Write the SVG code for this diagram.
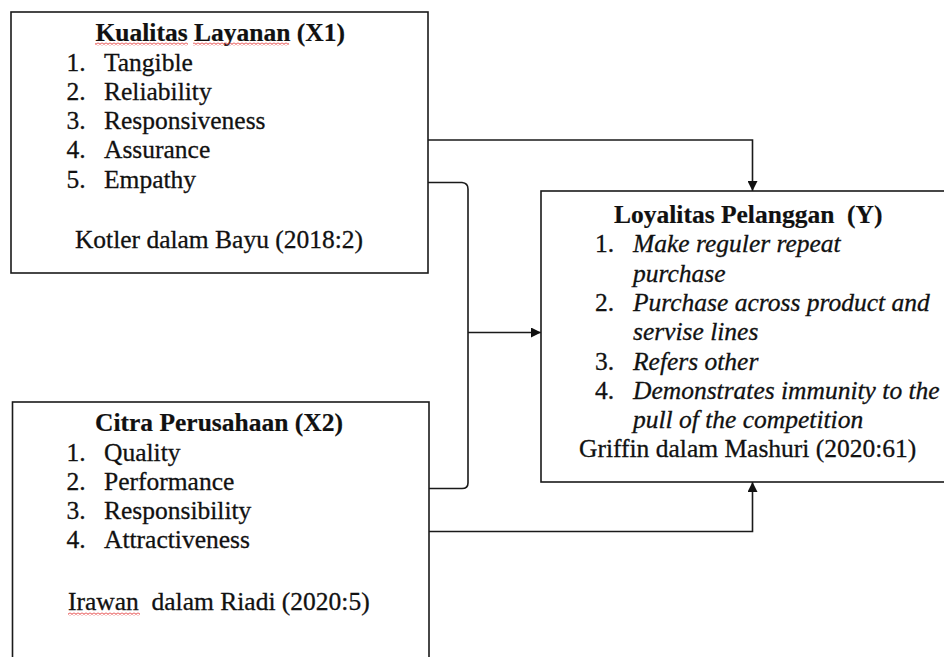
<svg xmlns="http://www.w3.org/2000/svg" width="944" height="657" viewBox="0 0 944 657">
<style>
.box{fill:#fff;stroke:#1a1a1a;stroke-width:1.6}
.t{font-family:"Liberation Serif","Times New Roman",serif;font-size:25.5px;fill:#111;stroke:#111;stroke-width:0.3}
.b{font-weight:bold;stroke-width:0.2}
.i{font-style:italic}
.c{text-anchor:middle}
.conn{fill:none;stroke:#1a1a1a;stroke-width:1.6}
</style>
<defs>
<marker id="arr" viewBox="0 0 10 10" refX="10" refY="5" markerWidth="10" markerHeight="10" markerUnits="userSpaceOnUse" orient="auto">
<path d="M0 0 L10 5 L0 10 z" fill="#111"/>
</marker>
<pattern id="squig" width="4" height="3" patternUnits="userSpaceOnUse">
<path d="M0 2.4 L2 0.6 L4 2.4" fill="none" stroke="#e02020" stroke-width="0.9"/>
</pattern>
</defs>

<g id="connectors">
<path class="conn" d="M428 140 H752.5 V191" marker-end="url(#arr)"/>
<path class="conn" d="M428 182.5 H462 Q468 183 468 189 V483 Q468 488.5 462 488.5 H429"/>
<path class="conn" d="M468 332.5 H541" marker-end="url(#arr)"/>
<path class="conn" d="M429 531.5 H752.5 V482" marker-end="url(#arr)"/>
</g>

<g id="x1">
<rect class="box" x="11" y="12" width="417" height="261"/>
<text class="t b" x="95.5" y="41">Kualitas Layanan (X1)</text>
<rect x="95" y="42.5" width="93" height="3" fill="url(#squig)"/>
<rect x="193" y="42.5" width="96" height="3" fill="url(#squig)"/>
<text class="t" x="66.5" y="70.5">1.</text><text class="t" x="104" y="70.5">Tangible</text>
<text class="t" x="66.5" y="99.8">2.</text><text class="t" x="104" y="99.8">Reliability</text>
<text class="t" x="66.5" y="129">3.</text><text class="t" x="104" y="129">Responsiveness</text>
<text class="t" x="66.5" y="158.3">4.</text><text class="t" x="104" y="158.3">Assurance</text>
<text class="t" x="66.5" y="187.5">5.</text><text class="t" x="104" y="187.5">Empathy</text>
<text class="t c" x="219" y="248.3">Kotler dalam Bayu (2018:2)</text>
</g>

<g id="y">
<rect class="box" x="541" y="191" width="410" height="291"/>
<text class="t b" x="614" y="223" xml:space="preserve">Loyalitas Pelanggan  (Y)</text>
<text class="t" x="595" y="252.3">1.</text><text class="t i" x="633" y="252.3">Make reguler repeat</text>
<text class="t i" x="633" y="281.6">purchase</text>
<text class="t" x="595" y="310.9">2.</text><text class="t i" x="633" y="310.9">Purchase across product and</text>
<text class="t i" x="633" y="340.2">servise lines</text>
<text class="t" x="595" y="369.5">3.</text><text class="t i" x="633" y="369.5">Refers other</text>
<text class="t" x="595" y="398.8">4.</text><text class="t i" x="633" y="398.8">Demonstrates immunity to the</text>
<text class="t i" x="633" y="428.1">pull of the competition</text>
<text class="t" x="579" y="456.5">Griffin dalam Mashuri (2020:61)</text>
</g>

<g id="x2">
<rect class="box" x="12.5" y="402" width="416.5" height="300"/>
<text class="t b" x="95" y="431">Citra Perusahaan (X2)</text>
<text class="t" x="66.5" y="460.5">1.</text><text class="t" x="104" y="460.5">Quality</text>
<text class="t" x="66.5" y="489.8">2.</text><text class="t" x="104" y="489.8">Performance</text>
<text class="t" x="66.5" y="519">3.</text><text class="t" x="104" y="519">Responsibility</text>
<text class="t" x="66.5" y="548.3">4.</text><text class="t" x="104" y="548.3">Attractiveness</text>
<text class="t" x="68" y="610" xml:space="preserve">Irawan  dalam Riadi (2020:5)</text>
<rect x="68" y="612.5" width="72" height="3" fill="url(#squig)"/>
</g>
</svg>
